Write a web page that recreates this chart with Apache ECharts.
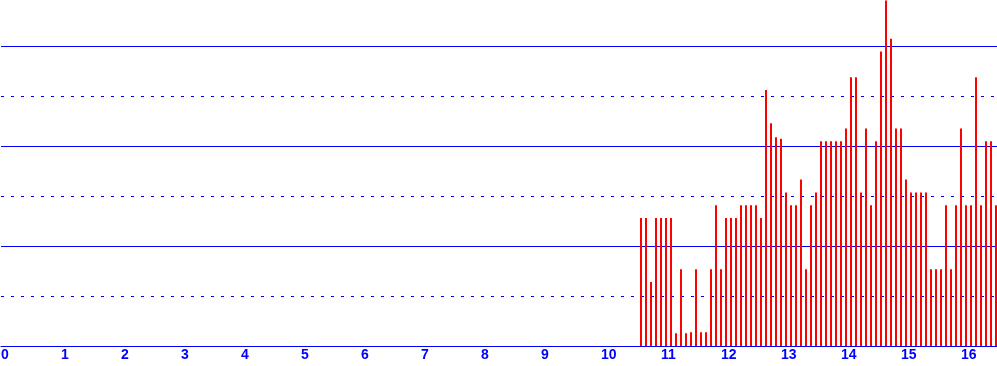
<!DOCTYPE html>
<html>
<head>
<meta charset="utf-8">
<script src="https://cdn.jsdelivr.net/npm/echarts@6/dist/echarts.min.js"></script>
<style>
html,body{margin:0;padding:0;background:#fff;}
#c{width:997px;height:366px;}
</style>
</head>
<body>
<div id="c"></div>
<script>
// Time of each bar (hh:mm), 5-minute steps
const times = [
  "10:40","10:45","10:50","10:55","11:00","11:05","11:10","11:15","11:20","11:25","11:30","11:35",
  "11:40","11:45","11:50","11:55","12:00","12:05","12:10","12:15","12:20","12:25","12:30","12:35",
  "12:40","12:45","12:50","12:55","13:00","13:05","13:10","13:15","13:20","13:25","13:30","13:35",
  "13:40","13:45","13:50","13:55","14:00","14:05","14:10","14:15","14:20","14:25","14:30","14:35",
  "14:40","14:45","14:50","14:55","15:00","15:05","15:10","15:15","15:20","15:25","15:30","15:35",
  "15:40","15:45","15:50","15:55","16:00","16:05","16:10","16:15","16:20","16:25","16:30","16:35"
];
// Bar values
const values = [
  10,10,5,10,10,10,10,1,6,1,1.07,6,
  1.07,1.07,6,11,6,10,10,10,11,11,11,11,
  10,20,17.4,16.3,16.2,12,11,11,13,6,11,12,
  16,16,16,16,16,17,21,21,12,17,11,16,
  23,27,24,17,17,13,12,12,12,12,6,6,
  6,11,6,11,17,11,11,21,11,16,16,11
];
// X tick labels
const xTicks = ["0","1","2","3","4","5","6","7","8","9","10","11","12","13","14","15","16"];
// Horizontal grid levels
const solidLevels = [7.8125, 15.625, 23.4375];
const dashedLevels = [3.90625, 11.71875, 19.53125];

const X_MIN = 0, X_MAX = 16.6, Y_MAX = 27.03125;
const toHours = t => { const p = t.split(":"); return +p[0] + (+p[1]) / 60; };
const seriesData = times.map((t, i) => [toHours(t), values[i]]);
const levelLine = v => [{coord: [X_MIN, v]}, {coord: [X_MAX, v]}];

const chart = echarts.init(document.getElementById('c'), null, {renderer: 'canvas'});
chart.setOption({
  animation: false,
  backgroundColor: '#ffffff',
  grid: {left: 1, right: 0, top: 0, bottom: 20, containLabel: false, outerBoundsMode: 'none'},
  xAxis: {
    type: 'value',
    min: X_MIN,
    max: X_MAX,
    interval: 1,
    axisLine: {show: true, lineStyle: {color: '#0000ff', width: 1}},
    axisTick: {show: false},
    splitLine: {show: false},
    axisLabel: {
      show: true,
      color: '#0000ff',
      fontFamily: 'Liberation Sans, Arial, sans-serif',
      fontWeight: 'bold',
      fontSize: 14,
      align: 'left',
      margin: 2,
      showMaxLabel: false,
      hideOverlap: false,
      formatter: v => { const k = Math.round(v); return (Math.abs(v - k) < 1e-6 && xTicks[k] !== undefined) ? xTicks[k] : ''; }
    }
  },
  yAxis: {
    type: 'value',
    min: 0,
    max: Y_MAX,
    axisLine: {show: false},
    axisTick: {show: false},
    axisLabel: {show: false},
    splitLine: {show: false}
  },
  series: [
    {
      type: 'line',
      data: [],
      silent: true,
      markLine: {
        silent: true,
        symbol: ['none', 'none'],
        label: {show: false},
        lineStyle: {color: '#0000ff', width: 1, type: 'solid'},
        emphasis: {disabled: true},
        data: solidLevels.map(levelLine)
      }
    },
    {
      type: 'line',
      data: [],
      silent: true,
      markLine: {
        silent: true,
        symbol: ['none', 'none'],
        label: {show: false},
        lineStyle: {color: '#0000ff', width: 1, type: [3, 7]},
        emphasis: {disabled: true},
        data: dashedLevels.map(levelLine)
      }
    },
    {
      type: 'bar',
      data: seriesData,
      barWidth: 2,
      itemStyle: {color: '#ff0000'},
      z: 5
    }
  ]
});
</script>
</body>
</html>
